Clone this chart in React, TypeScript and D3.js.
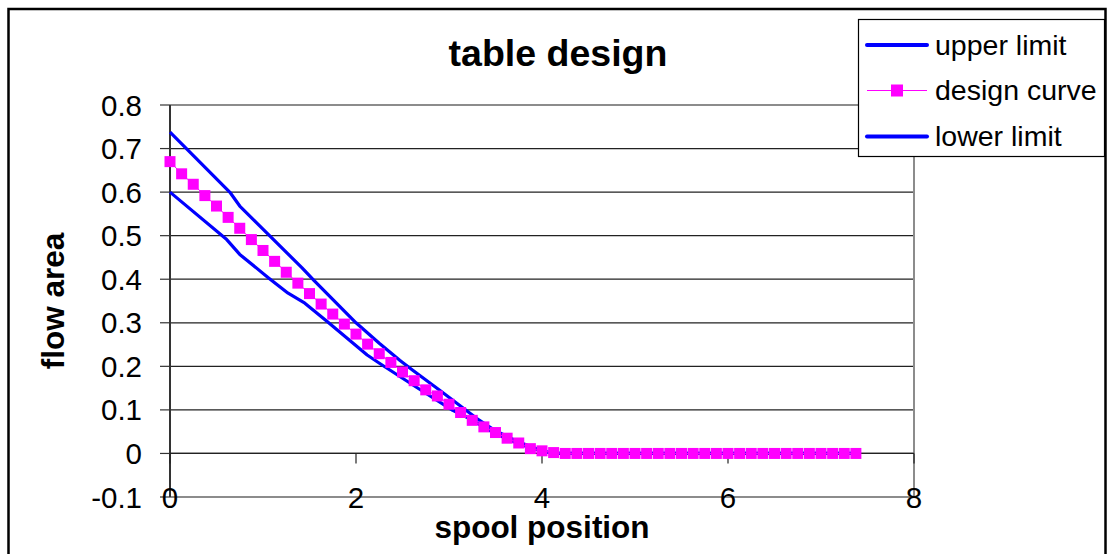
import React from "react";
import * as d3 from "d3";

// ---- data ----
const designX = [
  0, 0.125, 0.25, 0.375, 0.5, 0.625, 0.75, 0.875, 1, 1.125, 1.25, 1.375, 1.5, 1.625, 1.75, 1.875,
  2, 2.125, 2.25, 2.375, 2.5, 2.625, 2.75, 2.875, 3, 3.125, 3.25, 3.375, 3.5, 3.625, 3.75, 3.875,
  4, 4.125, 4.25, 4.375, 4.5, 4.625, 4.75, 4.875, 5, 5.125, 5.25, 5.375, 5.5, 5.625, 5.75, 5.875,
  6, 6.125, 6.25, 6.375, 6.5, 6.625, 6.75, 6.875, 7, 7.125, 7.25, 7.375,
];
const designY = [
  0.67, 0.642, 0.618, 0.592, 0.568, 0.542, 0.517, 0.491, 0.466, 0.441, 0.416, 0.391, 0.367, 0.343, 0.32, 0.297,
  0.274, 0.251, 0.229, 0.209, 0.187, 0.167, 0.146, 0.132, 0.113, 0.094, 0.076, 0.061, 0.048, 0.035, 0.024, 0.011,
  0.006, 0.002, 0, 0, 0, 0, 0, 0, 0, 0, 0, 0, 0, 0, 0, 0,
  0, 0, 0, 0, 0, 0, 0, 0, 0, 0, 0, 0,
];
const upperX = [0, 0.65, 0.75, 1.42, 1.55, 2.0, 2.25, 2.47, 2.61, 2.9, 3.3, 3.5, 3.75, 4.0, 4.125, 7.375];
const upperY = [0.738, 0.598, 0.568, 0.426, 0.397, 0.3, 0.253, 0.214, 0.191, 0.145, 0.08, 0.052, 0.026, 0.006, 0, 0];
const lowerX = [0, 0.61, 0.75, 1.06, 1.27, 1.45, 1.69, 2.12, 2.26, 2.65, 3.04, 3.23, 3.5, 3.75, 4.0, 4.125, 7.375];
const lowerY = [0.6, 0.491, 0.457, 0.403, 0.368, 0.345, 0.303, 0.226, 0.206, 0.152, 0.099, 0.079, 0.045, 0.022, 0.005, 0, 0];

const xTicks = [0, 2, 4, 6, 8];
const yTicks = [-0.1, 0, 0.1, 0.2, 0.3, 0.4, 0.5, 0.6, 0.7, 0.8];
const yTickLabels = ["-0.1", "0", "0.1", "0.2", "0.3", "0.4", "0.5", "0.6", "0.7", "0.8"];
const legendLabels = ["upper limit", "design curve", "lower limit"];
const titleText = "table design";
const xTitle = "spool position";
const yTitle = "flow area";

const FONT = "'Liberation Sans', Arial, Helvetica, sans-serif";
const BLUE = "#0000ff";
const MAGENTA = "#ff00ff";

export default function App() {
  const x = d3.scaleLinear().domain([0, 8]).range([170, 914]);
  const y = d3.scaleLinear().domain([-0.1, 0.8]).range([497, 105]);

  const line = d3
    .line<[number, number]>()
    .x((d) => x(d[0]))
    .y((d) => y(d[1]));

  const upper = upperX.map((v, i) => [v, upperY[i]] as [number, number]);
  const lower = lowerX.map((v, i) => [v, lowerY[i]] as [number, number]);
  const design = designX.map((v, i) => [v, designY[i]] as [number, number]);

  const x0 = x(0);
  const x1 = x(8);
  const yTop = y(0.8);
  const yBot = y(-0.1);
  const yZero = y(0);
  const ms = 11;

  const legendRows = [45, 90.5, 136.5];

  return (
    <svg
      width={1107}
      height={554}
      style={{ position: "absolute", left: 0, top: 0, background: "#fff" }}
      fontFamily={FONT}
    >
      <rect x={0} y={0} width={1107} height={554} fill="#fff" />
      {/* chart border */}
      <rect x={8.5} y={9} width={1097} height={560} fill="none" stroke="#000" strokeWidth={2.5} />

      {/* gridlines */}
      {yTicks
        .filter((t) => t > -0.1 && t < 0.8)
        .map((t) => (
          <line key={"g" + t} x1={x0} x2={x1} y1={y(t)} y2={y(t)} stroke="#222" strokeWidth={1.2} />
        ))}
      {/* plot border (gray) */}
      <line x1={x0} x2={x1} y1={yTop} y2={yTop} stroke="#8c8c8c" strokeWidth={2} />
      <line x1={x0} x2={x1} y1={yBot} y2={yBot} stroke="#8c8c8c" strokeWidth={2} />
      <line x1={x1} x2={x1} y1={yTop} y2={yBot} stroke="#8c8c8c" strokeWidth={2} />

      {/* y axis */}
      <line x1={x0} x2={x0} y1={yTop} y2={yBot} stroke="#333" strokeWidth={2} />
      {yTicks.map((t) => (
        <line key={"yt" + t} x1={x0 - 10} x2={x0} y1={y(t)} y2={y(t)} stroke="#333" strokeWidth={1.2} />
      ))}
      {yTicks.map((t, i) => (
        <text key={"yl" + t} x={142} y={y(t) + 10.5} textAnchor="end" fontSize={29.5} fill="#000">
          {yTickLabels[i]}
        </text>
      ))}

      {/* x axis at zero */}
      <line x1={x0} x2={x1} y1={yZero} y2={yZero} stroke="#222" strokeWidth={1.2} />
      {xTicks.map((t) => (
        <line key={"xt" + t} x1={x(t)} x2={x(t)} y1={yZero} y2={yZero + 10} stroke="#222" strokeWidth={1.2} />
      ))}
      {xTicks.map((t) => (
        <text key={"xl" + t} x={x(t)} y={508} textAnchor="middle" fontSize={29.5} fill="#000">
          {t}
        </text>
      ))}

      {/* series */}
      <path d={line(upper) || ""} fill="none" stroke={BLUE} strokeWidth={3.2} strokeLinejoin="round" />
      <path d={line(lower) || ""} fill="none" stroke={BLUE} strokeWidth={3.2} strokeLinejoin="round" />
      <path d={line(design) || ""} fill="none" stroke={MAGENTA} strokeWidth={1} />
      {design.map((d, i) => (
        <rect key={"m" + i} x={x(d[0]) - ms / 2} y={y(d[1]) - ms / 2} width={ms} height={ms} fill={MAGENTA} />
      ))}

      {/* title and axis titles */}
      <text x={558} y={66} textAnchor="middle" fontSize={37.5} fontWeight="bold" fill="#000">
        {titleText}
      </text>
      <text x={542} y={538} textAnchor="middle" fontSize={31.5} fontWeight="bold" fill="#000">
        {xTitle}
      </text>
      <text
        transform={`translate(64,301) rotate(-90)`}
        textAnchor="middle"
        fontSize={31.5}
        fontWeight="bold"
        fill="#000"
      >
        {yTitle}
      </text>

      {/* legend */}
      <rect x={858.5} y={19.5} width={246} height={137} fill="#fff" stroke="#000" strokeWidth={1.2} />
      {legendLabels.map((lab, i) => (
        <g key={lab}>
          {i === 1 ? (
            <>
              <line x1={867} x2={927} y1={legendRows[i]} y2={legendRows[i]} stroke={MAGENTA} strokeWidth={1} />
              <rect x={897 - 6} y={legendRows[i] - 6} width={12} height={12} fill={MAGENTA} />
            </>
          ) : (
            <line x1={867} x2={927} y1={legendRows[i]} y2={legendRows[i]} stroke={BLUE} strokeWidth={4} strokeLinecap="round" />
          )}
          <text x={935} y={legendRows[i] + 9.5} fontSize={28.5} fill="#000">
            {lab}
          </text>
        </g>
      ))}
    </svg>
  );
}
